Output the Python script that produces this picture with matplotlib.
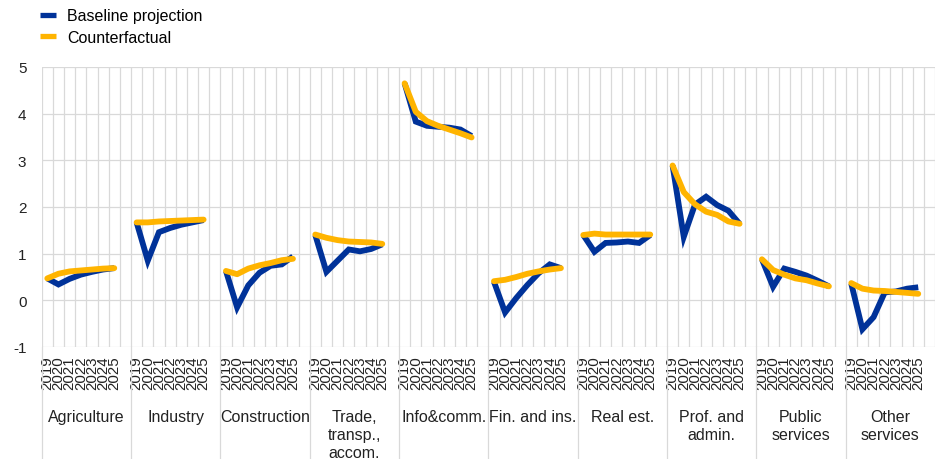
import numpy as np
import matplotlib
matplotlib.use('Agg')
import matplotlib.pyplot as plt
import matplotlib.transforms as mtransforms
from matplotlib.lines import Line2D

plt.rcParams['font.family'] = ['Liberation Sans', 'DejaVu Sans']

# sectors and years
sectors = ['Agriculture', 'Industry', 'Construction', 'Trade,\ntransp.,\naccom.',
           'Info&comm.', 'Fin. and ins.', 'Real est.', 'Prof. and\nadmin.',
           'Public\nservices', 'Other\nservices']
years = ['2019', '2020', '2021', '2022', '2023', '2024', '2025']

# baseline projection, one row per sector
baseline = [
    [0.47, 0.34, 0.46, 0.55, 0.61, 0.66, 0.69],
    [1.67, 0.85, 1.46, 1.55, 1.62, 1.67, 1.72],
    [0.63, -0.15, 0.32, 0.59, 0.74, 0.77, 0.94],
    [1.40, 0.61, 0.85, 1.09, 1.05, 1.10, 1.20],
    [4.65, 3.83, 3.74, 3.72, 3.70, 3.66, 3.52],
    [0.40, -0.26, 0.05, 0.33, 0.58, 0.77, 0.69],
    [1.40, 1.04, 1.23, 1.24, 1.26, 1.23, 1.40],
    [2.89, 1.36, 2.05, 2.22, 2.04, 1.92, 1.64],
    [0.88, 0.29, 0.68, 0.61, 0.53, 0.42, 0.30],
    [0.36, -0.62, -0.36, 0.17, 0.19, 0.25, 0.28],
]
# counterfactual
counterfactual = [
    [0.47, 0.57, 0.62, 0.64, 0.66, 0.68, 0.69],
    [1.67, 1.67, 1.69, 1.70, 1.71, 1.72, 1.73],
    [0.63, 0.56, 0.68, 0.75, 0.80, 0.86, 0.89],
    [1.41, 1.34, 1.29, 1.26, 1.25, 1.24, 1.21],
    [4.65, 4.04, 3.84, 3.74, 3.66, 3.58, 3.49],
    [0.41, 0.44, 0.50, 0.57, 0.62, 0.66, 0.69],
    [1.40, 1.43, 1.41, 1.41, 1.41, 1.41, 1.41],
    [2.89, 2.32, 2.06, 1.90, 1.83, 1.69, 1.64],
    [0.88, 0.65, 0.55, 0.47, 0.43, 0.36, 0.30],
    [0.37, 0.25, 0.21, 0.20, 0.18, 0.16, 0.14],
]

blue = '#003299'
yellow = '#ffb400'
grid_col = '#d9d9d9'
slot = 8  # 7 years + one empty slot per sector

fig = plt.figure(figsize=(9.35, 4.6), dpi=100)
ax = fig.add_axes([41.7 / 935, 112 / 460, 1 - 41.7 / 935, 280 / 460])

tick_pos = []
tick_lab = []
for g in range(len(sectors)):
    xs = g * slot + np.arange(len(years))
    ax.plot(xs, baseline[g], color=blue, lw=4.2, solid_joinstyle='miter',
            solid_capstyle='butt', zorder=3)
    ax.plot(xs, counterfactual[g], color=yellow, lw=4.2, solid_joinstyle='round',
            solid_capstyle='round', zorder=4)
    tick_pos += list(xs)
    tick_lab += years

ax.set_xlim(-0.5, 78.16)
ax.set_ylim(-1, 5)
ax.set_yticks(range(-1, 6))
ax.set_yticklabels([str(v) for v in range(-1, 6)])
ax.set_xticks(tick_pos)
ax.set_xticklabels(tick_lab, rotation=90, va='top', ha='center')
ax.set_xticks(np.arange(-0.5, 80, 1), minor=True)
ax.tick_params(axis='x', which='both', length=0, pad=6, labelsize=10.8, colors='#222222')
ax.tick_params(axis='y', length=0, pad=11, labelsize=11, colors='#222222')
ax.grid(which='minor', axis='x', color=grid_col, lw=0.9)
ax.grid(which='major', axis='y', color=grid_col, lw=0.9)
ax.grid(which='major', axis='x', visible=False)
ax.set_axisbelow(True)
for s in ax.spines.values():
    s.set_visible(False)

# sector separators and labels below the axis
trans = mtransforms.blended_transform_factory(ax.transData, ax.transAxes)
for g in range(len(sectors)):
    x0 = g * slot - 0.5
    ax.plot([x0, x0], [0, -0.41], color=grid_col, lw=0.9, transform=trans, clip_on=False)
    ax.text(g * slot + 3.5, -0.22, sectors[g], transform=trans, ha='center', va='top',
            fontsize=11.5, color='#222222', linespacing=1.28)

handles = [Line2D([0], [0], color=blue, lw=3.8, solid_capstyle='butt'),
           Line2D([0], [0], color=yellow, lw=3.8, solid_capstyle='butt')]
fig.legend(handles, ['Baseline projection', 'Counterfactual'], loc='upper left',
           bbox_to_anchor=(0.043, 0.98), frameon=False, fontsize=11.5,
           handlelength=1.0, handletextpad=0.7, labelspacing=0.42, borderpad=0,
           borderaxespad=0)

fig.savefig('out.png', dpi=100)
